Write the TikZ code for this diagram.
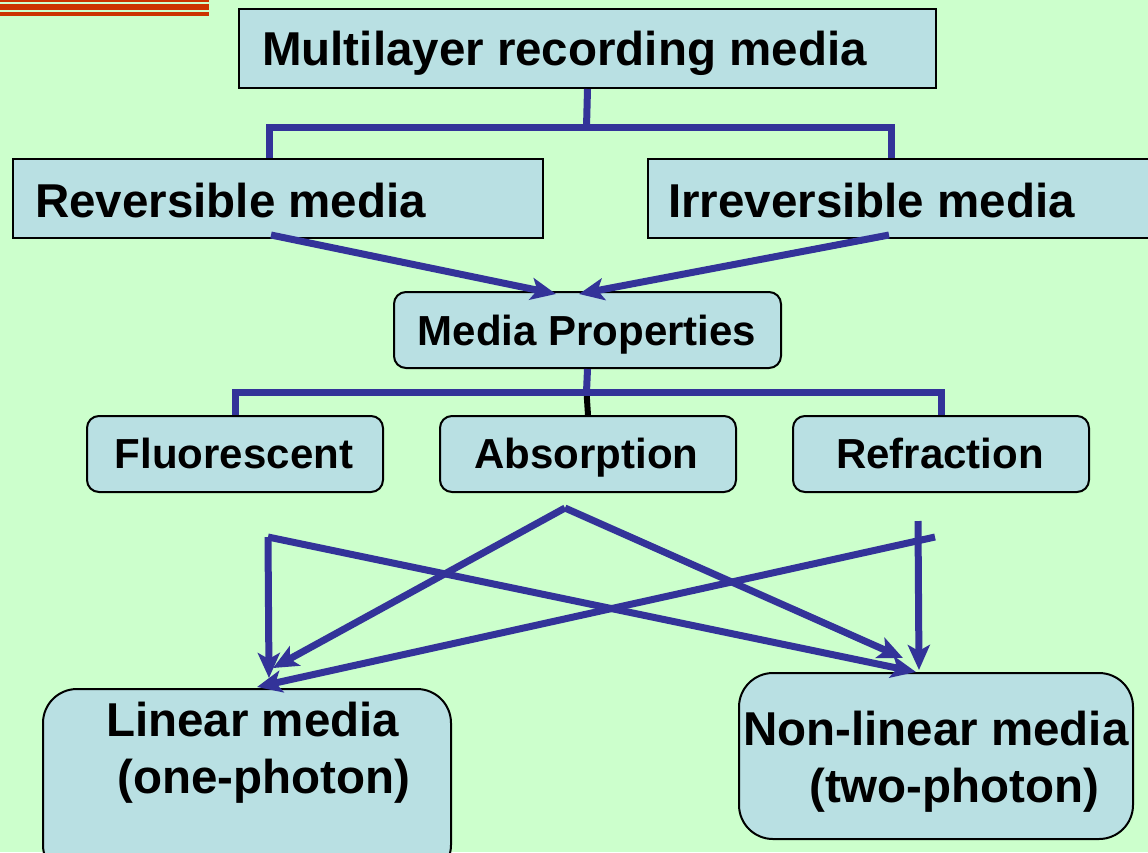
\documentclass[tikz,border=0pt]{standalone}
\usepackage{fontspec}
\setmainfont{Liberation Sans}
\usetikzlibrary{arrows.meta}
\definecolor{bg}{HTML}{CCFFCC}
\definecolor{boxfill}{HTML}{B9E0E3}
\definecolor{linkblue}{HTML}{333399}
\definecolor{stripe}{HTML}{CC3300}
\begin{document}
\begin{tikzpicture}[x=1pt,y=-1pt,
  sharpbox/.style={draw=black,line width=2pt,fill=boxfill,rectangle,inner sep=0pt},
  roundbox/.style={sharpbox,rounded corners=12pt},
  bigbox/.style={sharpbox,rounded corners=34pt},
  big/.style={font=\bfseries\fontsize{47.5}{57}\selectfont,inner sep=0pt},
  mid/.style={font=\bfseries\fontsize{42}{50}\selectfont,inner sep=0pt},
  link/.style={draw=linkblue,line width=7pt},
  arr/.style={link,-{Stealth[length=25pt,width=22pt,inset=6pt]}}]

% page and background
\useasboundingbox (0,0) rectangle (1148,852);
\fill[bg] (0,0) rectangle (1148,852);

% stripes in the upper left corner
\fill[stripe] (0,0) rectangle (209,2.3);
\fill[stripe] (0,4.3) rectangle (209,10.2);
\fill[stripe] (0,12.3) rectangle (209,15.5);

% boxes
\node[sharpbox,minimum width=697pt,minimum height=79pt,anchor=north west] (top) at (238,8) {};
\node[sharpbox,minimum width=530pt,minimum height=79pt,anchor=north west] (rev) at (12,158) {};
\node[sharpbox,minimum width=503pt,minimum height=79pt,anchor=north west] (irr) at (647,158) {};
\node[roundbox,minimum width=387pt,minimum height=76pt,anchor=north west] (mp) at (393,291) {};
\node[roundbox,minimum width=296pt,minimum height=76pt,anchor=north west] (fl) at (86,415) {};
\node[roundbox,minimum width=296pt,minimum height=76pt,anchor=north west] (abs) at (439,415) {};
\node[roundbox,minimum width=296pt,minimum height=76pt,anchor=north west] (ref) at (792,415) {};
\node[bigbox,minimum width=408pt,minimum height=190pt,anchor=north west] (lin) at (42,688) {};
\node[bigbox,minimum width=394pt,minimum height=166pt,anchor=north west] (non) at (738,672) {};

% labels
\node[big,anchor=base west] (toptext) at (262,65) {Multilayer recording media};
\node[big,anchor=base west] (revtext) at (35,217) {Reversible media};
\node[big,anchor=base west] (irrtext) at (668,217) {Irreversible media};
\node[mid,anchor=base] (mptext) at (587,345) {Media Properties};
\node[mid,anchor=base] (fltext) at (234,468) {Fluorescent};
\node[mid,anchor=base] (abstext) at (586.5,468) {Absorption};
\node[mid,anchor=base] (reftext) at (940,468) {Refraction};
\node[big,anchor=base west] (lintext1) at (106,736) {Linear media};
\node[big,anchor=base west] (lintext2) at (117,793) {(one-photon)};
\node[big,anchor=base west] (nontext1) at (743,745) {Non-linear media};
\node[big,anchor=base west] (nontext2) at (809,802) {(two-photon)};

% tree from the top box
\coordinate (split1) at (586.5,127);
\draw[link] (top.south) -- (split1);
\draw[link] ([xshift=-9]rev.north) |- (split1) -| ([xshift=-8]irr.north);

% both media kinds point to the properties box
\draw[arr] ([xshift=-7,yshift=4]rev.south) -- ([xshift=-31.5,yshift=-3]mp.north);
\draw[arr] ([xshift=-10.5,yshift=4]irr.south) -- ([xshift=-8.5,yshift=-3]mp.north);

% tree from the properties box
\coordinate (split2) at (586.5,392);
\draw[black,line width=6pt] (split2) -- (abs.north);
\draw[link] (mp.south) -- (split2);
\draw[link] (fl.north) |- (split2) -| (ref.north);

% crossing arrows down to the two media classes
\coordinate (fsrc) at (268,537);
\coordinate (asrc) at (565,508);
\coordinate (rsrc) at (918,521);
\coordinate (rsrc2) at (935,537);
\draw[arr] (fsrc) -- ([xshift=22,yshift=10]lin.north);
\draw[arr] (fsrc) -- ([xshift=-20]non.north);
\draw[arr] (asrc) -- ([xshift=26,yshift=20]lin.north);
\draw[arr] (asrc) -- ([xshift=-33,yshift=14]non.north);
\draw[arr] (rsrc) -- ([xshift=-17,yshift=2]non.north);
\draw[arr] (rsrc2) -- ([xshift=10,yshift=1]lin.north);
\end{tikzpicture}
\end{document}
